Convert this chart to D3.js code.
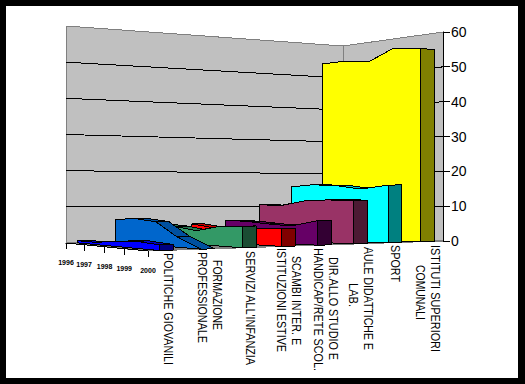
<!DOCTYPE html>
<html>
<head>
<meta charset="utf-8">
<script src="https://cdnjs.cloudflare.com/ajax/libs/d3/7.8.5/d3.min.js"></script>
<style>
	html, body { margin: 0; padding: 0; background: #000; }
	svg { display: block; }
	text { font-family: "Liberation Sans", Arial, sans-serif; fill: #000; opacity: 0.999; }
</style>
</head>
<body>
<div id="main-view"></div>
<script>
var years = [1996, 1997, 1998, 1999, 2000];

var politicheGiovanili = [0.6, 0.6, 1.4, 1.9, 1.5];
var formazioneProf = [6.4, 7, 6.5, 2.9, 0];
var serviziInfanzia = [5, 4.7, 3.8, 5.3, 5.8];
var istituzioniEstive = [4.9, 4.2, 4.1, 4.4, 4.8];
var scambiHandicap = [5.9, 5.8, 5.3, 5, 6.8];
var dirAulePlum = [10.5, 10.3, 11.8, 12.2, 12.2];
var sport = [15.9, 16.5, 16.2, 15.2, 16.3];
var istitutiSuperiori = [54, 54, 53, 56, 55];

var series = [politicheGiovanili, formazioneProf, serviziInfanzia, istituzioniEstive,
	scambiHandicap, dirAulePlum, sport, istitutiSuperiori];
var seriesColors = ["#0000ff", "#0066cc", "#339966", "#ff0000", "#660066", "#993366", "#00ffff", "#ffff00"];

var valueTicks = [0, 10, 20, 30, 40, 50, 60];

var labelLines = ["POLITICHE GIOVANILI", "PROFESSIONALE", "FORMAZIONE", "SERVIZI ALL'INFANZIA",
	"ISTITUZIONI ESTIVE", "SCAMBI INTER. E", "HANDICAP/RETE SCOL.", "DIR.ALLO STUDIO E", "LAB.",
	"AULE DIDATTICHE E", "SPORT", "COMUNALI", "ISTITUTI  SUPERIORI"];

// x centre, first and last y of each rotated line
var labelLayout = [[168, 253, 365], [202, 252, 343], [217, 260, 330], [250, 251, 365],
	[281, 248, 352], [296, 256, 345], [318, 248, 371], [333, 257, 360], [353, 283, 307],
	[368, 247, 350], [395, 245, 282], [420, 265, 320], [435, 245, 352]];

var width = 525,
	height = 384;

// floor corners: [x, y, wall height for 60]
var cornerA = [66, 243, 217],   // first year, first category
	cornerB = [148, 251, 228],  // last year, first category
	cornerC = [343, 238, 192],  // first year, last category
	cornerD = [443, 241, 209];  // last year, last category

// the chart has perspective so these are not even
var uScale = d3.scaleLinear().domain(years).range([0, 0.22, 0.47, 0.71, 1]);
var vScale = d3.scaleLinear().domain(d3.range(8)).range([0.04, 0.18, 0.322, 0.454, 0.576, 0.698, 0.814, 0.925]);
var slabDepth = 0.045;
var valueScale = d3.scaleLinear().domain([0, 60]).range([0, 1]);

function project(u, v, value) {
	function mix(i) {
		return (1 - u) * (1 - v) * cornerA[i] + u * (1 - v) * cornerB[i] +
			(1 - u) * v * cornerC[i] + u * v * cornerD[i];
	}
	return [mix(0), mix(1) - mix(2) * valueScale(value)];
}

var path = d3.line();

var svg = d3.select("#main-view").append("svg")
	.attr("width", width)
	.attr("height", height);

svg.append("rect")
	.attr("x", 6).attr("y", 6)
	.attr("width", 512).attr("height", 372)
	.attr("fill", "#fff");

var chart = svg.append("g").attr("shape-rendering", "crispEdges");

// walls and floor
chart.append("path")
	.attr("d", path([project(0, 0, 0), project(0, 0, 60), project(0, 1, 60), project(1, 1, 60), project(1, 1, 0), project(0, 1, 0)]) + "Z")
	.attr("fill", "#c0c0c0")
	.attr("stroke", "#808080");
chart.append("path")
	.attr("d", path([project(0, 1, 0), project(0, 1, 60)]))
	.attr("stroke", "#808080");
chart.append("path")
	.attr("d", path([project(0, 0, 0), project(1, 0, 0), project(1, 1, 0), project(0, 1, 0)]) + "Z")
	.attr("fill", "#808080")
	.attr("stroke", "#808080");

// gridlines
chart.selectAll(".grid")
	.data(valueTicks.slice(1, -1))
	.enter().append("path")
	.attr("class", "grid")
	.attr("fill", "none")
	.attr("stroke", "#000")
	.attr("d", function(d) {
		return path([project(0, 0, d), project(0, 1, d), project(1, 1, d)]);
	});

function shade(color, k) {
	var c = d3.rgb(color);
	return d3.rgb(c.r * k, c.g * k, c.b * k).formatHex();
}

// slabs back to front, each one top, then front, then end
d3.range(series.length - 1, -1, -1).forEach(function(i) {
	var values = series[i];
	var front = vScale(i),
		back = front + slabDepth;
	var g = chart.append("g").attr("stroke", "#000").attr("stroke-linejoin", "round");

	years.slice(0, -1).forEach(function(y, j) {
		var u0 = uScale(y),
			u1 = uScale(years[j + 1]);
		g.append("path")
			.attr("d", path([project(u0, front, values[j]), project(u1, front, values[j + 1]),
				project(u1, back, values[j + 1]), project(u0, back, values[j])]) + "Z")
			.attr("fill", shade(seriesColors[i], 0.78));
	});

	var facePoints = years.map(function(y, j) {
		return project(uScale(y), front, values[j]);
	});
	facePoints.push(project(1, front, 0), project(0, front, 0));
	g.append("path")
		.attr("d", path(facePoints) + "Z")
		.attr("fill", seriesColors[i]);

	var last = values[values.length - 1];
	g.append("path")
		.attr("d", path([project(1, front, last), project(1, back, last), project(1, back, 0), project(1, front, 0)]) + "Z")
		.attr("fill", shade(seriesColors[i], 0.5));
});

// value axis on the right wall
var yAxis = chart.append("g");
yAxis.append("path")
	.attr("d", path([project(1, 1, 0), project(1, 1, 60)]))
	.attr("stroke", "#000");
yAxis.selectAll("path.tick")
	.data(valueTicks)
	.enter().append("path")
	.attr("class", "tick")
	.attr("stroke", "#000")
	.attr("d", function(d) {
		var p = project(1, 1, d);
		return path([p, [p[0] + 7, p[1]]]);
	});
svg.selectAll(".valueLabel")
	.data(valueTicks)
	.enter().append("text")
	.attr("class", "valueLabel")
	.attr("font-size", 14)
	.attr("x", function(d) { return project(1, 1, d)[0] + 8; })
	.attr("y", function(d) { return project(1, 1, d)[1] + 5; })
	.text(function(d) { return d; });

// year axis on the front edge
chart.append("path")
	.attr("d", path([project(0, 0, 0), project(1, 0, 0)]))
	.attr("stroke", "#000");
chart.selectAll(".yearTick")
	.data(years)
	.enter().append("path")
	.attr("class", "yearTick")
	.attr("stroke", "#000")
	.attr("d", function(d) {
		var p = project(uScale(d), 0, 0);
		return path([p, [p[0], p[1] + 6]]);
	});
svg.selectAll(".yearLabel")
	.data(years)
	.enter().append("text")
	.attr("class", "yearLabel")
	.attr("font-size", 7)
	.attr("font-weight", "bold")
	.attr("text-anchor", "middle")
	.attr("x", function(d) { return project(uScale(d), 0, 0)[0]; })
	.attr("y", function(d) { return project(uScale(d), 0, 0)[1] + 22; })
	.text(function(d) { return d; });

// category labels, rotated
svg.selectAll(".catLabel")
	.data(labelLines)
	.enter().append("text")
	.attr("class", "catLabel")
	.attr("font-size", 12)
	.attr("dominant-baseline", "central")
	.attr("textLength", function(d, i) { return labelLayout[i][2] - labelLayout[i][1]; })
	.attr("lengthAdjust", "spacingAndGlyphs")
	.attr("transform", function(d, i) {
		return "translate(" + labelLayout[i][0] + "," + labelLayout[i][1] + ") rotate(90)";
	})
	.text(function(d) { return d; });
</script>
</body>
</html>
